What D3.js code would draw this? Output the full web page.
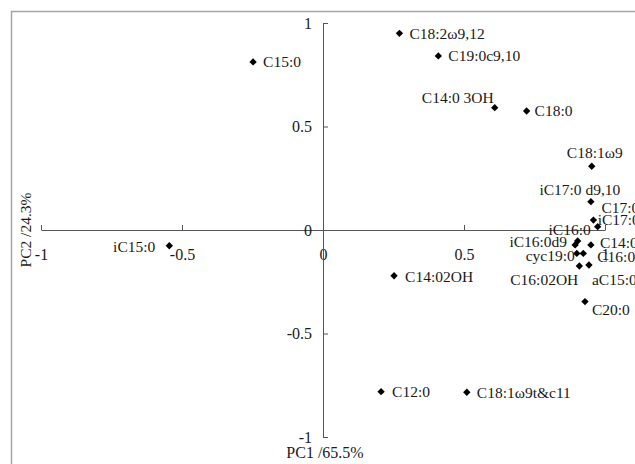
<!DOCTYPE html>
<meta charset="utf-8">
<script src="https://d3js.org/d3.v7.min.js"></script>
<style>
  body { margin: 0; background: #fff; }
  svg { display: block; font-family: "Liberation Serif", "Times New Roman", serif; }
</style>
<svg></svg>
<script>

    var width = 635;
    var height = 464;

    // fatty acid loadings
    var names = ["C15:0", "C18:2\u03c99,12", "C19:0c9,10", "C14:0 3OH", "C18:0", "C18:1\u03c99",
                 "iC17:0 d9,10", "C17:0", "iC17:0", "iC16:0", "iC16:0d9", "C14:0", "cyc19:0",
                 "C16:0", "C16:02OH", "aC15:0", "C20:0", "iC15:0", "C14:02OH", "C12:0",
                 "C18:1\u03c99t&c11"];
    var pc1 = [-0.248, 0.271, 0.409, 0.609, 0.722, 0.953,
               0.950, 0.959, 0.974, 0.903, 0.894, 0.950, 0.900,
               0.923, 0.909, 0.943, 0.929, -0.545, 0.252, 0.206,
               0.510];
    var pc2 = [0.812, 0.950, 0.841, 0.591, 0.575, 0.308,
               0.137, 0.048, 0.016, -0.053, -0.072, -0.072, -0.113,
               -0.113, -0.174, -0.169, -0.346, -0.076, -0.221, -0.781,
               -0.784];
    var tickValues = [-1, -0.5, 0, 0.5, 1];
    var xTitle = "PC1 /65.5%";
    var yTitle = "PC2 /24.3%";

    // where each label sits relative to its marker: [anchor, dx, dy]
    var labelPos = [["start", 10, 0], ["start", 10, 0], ["start", 10, 0], ["end", -1, -10], ["start", 8, 0], ["middle", 3, -14],
                    ["middle", -11, -12], ["start", 8, -12], ["start", 0, -7], ["middle", -8, -11], ["end", -8, -3], ["start", 9, -2], ["end", -2, 2],
                    ["start", 14, 3], ["end", -1, 14], ["start", 3, 15], ["start", 7, 8], ["end", -14, 1], ["start", 11, 1], ["start", 11, 0],
                    ["start", 10, 0]];

    var data = names.map((n, i) => ({name: n, x: pc1[i], y: pc2[i], pos: labelPos[i]}));

    var x = d3.scaleLinear().domain([-1, 1]).range([41, 605]);
    var y = d3.scaleLinear().domain([-1, 1]).range([437, 23]);

    var svg = d3.select("svg")
        .attr("width", width)
        .attr("height", height)
        .attr("viewBox", [0, 0, width, height]);

    // chart frame, runs off the right and bottom of the picture
    svg.append("rect")
        .attr("x", 11.5).attr("y", 11.5)
        .attr("width", 660).attr("height", 480)
        .attr("fill", "none")
        .attr("stroke", "#a6a6a6")
        .attr("stroke-width", 1.5);

    var fmt = d => String(d);

    var xAxis = svg.append("g")
        .attr("transform", `translate(0,${y(0)})`)
        .call(d3.axisBottom(x).tickValues(tickValues).tickFormat(fmt)
              .tickSizeInner(-5).tickSizeOuter(0).tickPadding(19));

    var yAxis = svg.append("g")
        .attr("transform", `translate(${x(0)},0)`)
        .call(d3.axisLeft(y).tickValues(tickValues).tickFormat(fmt)
              .tickSizeInner(-5).tickSizeOuter(0).tickPadding(11));

    [xAxis, yAxis].forEach(g => {
        g.attr("font-family", null).attr("font-size", 16);
        g.selectAll("path, line").attr("stroke", "#555");
        g.selectAll("text").attr("fill", "#1a1a1a");
    });

    svg.append("text")
        .attr("x", 325).attr("y", 452).attr("dy", "0.35em")
        .attr("text-anchor", "middle")
        .attr("font-size", 16).attr("fill", "#1a1a1a")
        .text(xTitle);

    svg.append("text")
        .attr("transform", "translate(26,230) rotate(-90)")
        .attr("dy", "0.35em")
        .attr("text-anchor", "middle")
        .attr("font-size", 15.5).attr("fill", "#1a1a1a")
        .text(yTitle);

    var diamond = d3.symbol().type(d3.symbolSquare).size(27);

    svg.append("g")
        .selectAll("path")
        .data(data)
        .join("path")
        .attr("d", diamond)
        .attr("transform", d => `translate(${x(d.x)},${y(d.y)}) rotate(45)`)
        .attr("fill", "#000");

    svg.append("g")
        .attr("font-size", 15.5)
        .attr("fill", "#1a1a1a")
        .selectAll("text")
        .data(data)
        .join("text")
        .attr("x", d => x(d.x) + d.pos[1])
        .attr("y", d => y(d.y) + d.pos[2])
        .attr("dy", "0.35em")
        .attr("text-anchor", d => d.pos[0])
        .text(d => d.name);

</script>
